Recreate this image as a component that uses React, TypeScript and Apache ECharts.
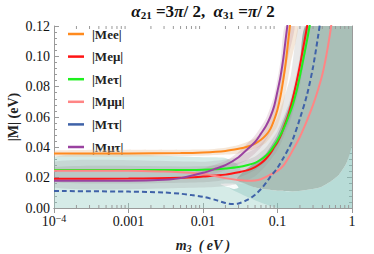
import React, { useEffect, useRef } from 'react';
import * as echarts from 'echarts';

// ---- curves: [m3 (eV), |M| (eV)] ----
const meeData = [[1e-4, 0.036], [0.001, 0.036], [0.005, 0.0362], [0.01, 0.0366], [0.02, 0.0376], [0.03, 0.039], [0.04, 0.0405], [0.05, 0.0425], [0.06, 0.045], [0.07, 0.048], [0.08, 0.052], [0.09, 0.058], [0.1, 0.065], [0.11, 0.074], [0.12, 0.085], [0.13, 0.097], [0.14, 0.111], [0.15, 0.124], [0.16, 0.136]];
const meuData = [[1e-4, 0.0193], [0.001, 0.0194], [0.005, 0.0199], [0.01, 0.0207], [0.015, 0.0214], [0.02, 0.022], [0.03, 0.0236], [0.04, 0.025], [0.05, 0.027], [0.06, 0.0295], [0.07, 0.0325], [0.08, 0.036], [0.09, 0.04], [0.1, 0.0435], [0.11, 0.0475], [0.12, 0.0525], [0.14, 0.0615], [0.16, 0.072], [0.18, 0.083], [0.2, 0.094], [0.22, 0.105], [0.25, 0.12], [0.28, 0.137]];
const metData = [[1e-4, 0.025], [0.001, 0.025], [0.005, 0.025], [0.01, 0.0252], [0.015, 0.0255], [0.02, 0.026], [0.03, 0.027], [0.04, 0.0283], [0.05, 0.0298], [0.06, 0.032], [0.07, 0.0345], [0.08, 0.0375], [0.09, 0.041], [0.1, 0.0445], [0.12, 0.052], [0.14, 0.06], [0.16, 0.068], [0.18, 0.077], [0.2, 0.087], [0.22, 0.097], [0.25, 0.111], [0.27, 0.12], [0.3, 0.134]];
const mmmData = [[1e-4, 0.0245], [0.001, 0.0245], [0.003, 0.024], [0.005, 0.0235], [0.01, 0.0225], [0.015, 0.021], [0.02, 0.0197], [0.03, 0.0185], [0.04, 0.018], [0.05, 0.0182], [0.06, 0.019], [0.07, 0.0205], [0.08, 0.022], [0.1, 0.0245], [0.12, 0.028], [0.14, 0.033], [0.16, 0.038], [0.2, 0.047], [0.25, 0.058], [0.3, 0.068], [0.35, 0.078], [0.4, 0.088], [0.45, 0.1], [0.5, 0.113], [0.55, 0.127], [0.6, 0.14]];
const mttData = [[1e-4, 0.0112], [0.001, 0.0108], [0.003, 0.0102], [0.005, 0.0094], [0.007, 0.0085], [0.01, 0.0074], [0.015, 0.0052], [0.02, 0.0033], [0.025, 0.0026], [0.03, 0.003], [0.04, 0.0055], [0.05, 0.0088], [0.06, 0.0125], [0.07, 0.0165], [0.08, 0.0205], [0.1, 0.0265], [0.12, 0.033], [0.14, 0.039], [0.16, 0.045], [0.2, 0.059], [0.25, 0.075], [0.3, 0.093], [0.35, 0.113], [0.38, 0.125], [0.42, 0.14]];
const mmtData = [[1e-4, 0.018], [0.001, 0.018], [0.003, 0.0186], [0.005, 0.0197], [0.01, 0.0232], [0.015, 0.026], [0.02, 0.0282], [0.03, 0.0335], [0.04, 0.039], [0.05, 0.0435], [0.06, 0.049], [0.07, 0.054], [0.08, 0.06], [0.09, 0.067], [0.1, 0.077], [0.11, 0.087], [0.12, 0.099], [0.13, 0.113], [0.14, 0.126], [0.15, 0.14]];

// ---- shaded allowed regions (outlines) ----
const tealLightBand = [[1e-4, 0], [1e-4, 0.0335], [0.01, 0.0335], [0.02, 0.033], [0.03, 0.028], [0.035, 0.02], [0.05, 0.0135], [0.1, 0.0113], [0.18, 0.011], [0.36, 0.0133], [0.5, 0.017], [0.67, 0.022], [0.85, 0.03], [1, 0.042], [1, 0]];
const tealMidBand = [[0.022, 0.0135], [0.1, 0], [1, 0], [1, 0.042], [0.85, 0.03], [0.67, 0.022], [0.5, 0.017], [0.36, 0.0133], [0.18, 0.011], [0.1, 0.0113], [0.05, 0.0135], [0.035, 0.0165]];
const whiteGap = [[0.017, 0.0158], [0.026, 0.0125], [0.03, 0.0135], [0.027, 0.016]];
const darkBand = [[0.24, 0.12], [0.2, 0.095], [0.15, 0.07], [0.1, 0.048], [0.07, 0.036], [0.05, 0.03], [0.035, 0.024], [0.028, 0.0185], [0.035, 0.0165], [0.05, 0.0135], [0.1, 0.0113], [0.18, 0.011], [0.36, 0.0133], [0.5, 0.017], [0.67, 0.022], [0.85, 0.03], [1, 0.042], [1, 0.12]];
const grayOuterBand = [[1e-4, 0.0305], [0.01, 0.0305], [0.02, 0.032], [0.03, 0.034], [0.05, 0.039], [0.07, 0.046], [0.1, 0.06], [0.15, 0.087], [0.19, 0.12], [0.26, 0.12], [0.2, 0.08], [0.15, 0.058], [0.1, 0.038], [0.07, 0.028], [0.05, 0.021], [0.03, 0.016], [0.02, 0.0145], [0.01, 0.0135], [1e-4, 0.0135]];
const grayInnerBand = [[1e-4, 0.027], [0.01, 0.0275], [0.03, 0.03], [0.05, 0.034], [0.07, 0.04], [0.1, 0.051], [0.15, 0.072], [0.2, 0.1], [0.23, 0.12], [0.27, 0.12], [0.2, 0.083], [0.15, 0.06], [0.1, 0.041], [0.07, 0.031], [0.05, 0.025], [0.03, 0.02], [0.01, 0.017], [1e-4, 0.017]];
const orangeBand = [[1e-4, 0.0378], [0.01, 0.0385], [0.02, 0.0398], [0.03, 0.0415], [0.05, 0.046], [0.07, 0.053], [0.09, 0.066], [0.11, 0.085], [0.13, 0.108], [0.14, 0.12], [0.19, 0.12], [0.15, 0.095], [0.12, 0.068], [0.1, 0.054], [0.07, 0.043], [0.05, 0.039], [0.03, 0.036], [0.02, 0.0352], [0.01, 0.0345], [1e-4, 0.034]];
const mauveBand = [[0.008, 0.024], [0.02, 0.031], [0.03, 0.037], [0.05, 0.048], [0.07, 0.059], [0.09, 0.074], [0.11, 0.097], [0.125, 0.12], [0.17, 0.12], [0.14, 0.1], [0.11, 0.073], [0.08, 0.05], [0.06, 0.04], [0.04, 0.032], [0.02, 0.025], [0.008, 0.019]];

// ---- axis ticks ----
const xMinorTicks = [2e-4, 3e-4, 4e-4, 5e-4, 6e-4, 7e-4, 8e-4, 9e-4, 0.002, 0.003, 0.004, 0.005, 0.006, 0.007, 0.008, 0.009, 0.02, 0.03, 0.04, 0.05, 0.06, 0.07, 0.08, 0.09, 0.2, 0.3, 0.4, 0.5, 0.6, 0.7, 0.8, 0.9];
const yMin = 0;
const yMax = 0.12;
const yStep = 0.02;

const SERIF = "'Liberation Serif', 'DejaVu Serif', serif";
const AXIS_COLOR = '#9a9a9a';

function band(name: string, pts: number[][], fill: string, z: number) {
  return {
    type: 'custom',
    name,
    silent: true,
    clip: true,
    z,
    data: pts,
    encode: { x: 0, y: 1 },
    renderItem: (params: any, api: any) => {
      if (params.dataIndex !== 0) return null;
      const points = pts.map((p) => api.coord(p));
      return { type: 'polygon', shape: { points, smooth: 0.2 }, style: { fill } };
    },
  };
}

function curve(name: string, data: number[][], color: string, dashed = false) {
  return {
    type: 'line',
    name,
    data,
    showSymbol: false,
    symbol: 'none',
    smooth: 0.3,
    clip: true,
    z: 10,
    lineStyle: { color, width: 2, type: dashed ? [5, 3] : 'solid' },
    itemStyle: { color },
  };
}

export default function App() {
  const ref = useRef<HTMLDivElement>(null);
  useEffect(() => {
    const chart = echarts.init(ref.current!, undefined, { renderer: 'svg' });
    const fmtX = (v: number) => {
      const l = Math.round(Math.log10(v));
      if (l === -4) return '{b|10}{sup|−4}';
      if (l === -3) return '{b|0.001}';
      if (l === -2) return '{b|0.01}';
      if (l === -1) return '{b|0.1}';
      return '{b|1}';
    };
    chart.setOption({
      animation: false,
      grid: { left: 54, right: 22, top: 26, bottom: 46 },
      xAxis: [
        {
          type: 'log', logBase: 10, min: 1e-4, max: 1, position: 'bottom',
          axisLine: { lineStyle: { color: AXIS_COLOR, width: 1 } },
          axisTick: { inside: true, length: 5, lineStyle: { color: AXIS_COLOR } },
          splitLine: { show: false },
          axisLabel: {
            margin: 7, formatter: fmtX, color: '#111',
            rich: {
              b: { fontFamily: SERIF, fontSize: 14, color: '#111', lineHeight: 12 },
              sup: { fontFamily: SERIF, fontSize: 10, color: '#111', lineHeight: 12, padding: [0, 0, 6, 0] },
            },
          },
        },
        {
          type: 'log', logBase: 10, min: 1e-4, max: 1, position: 'top',
          axisLine: { lineStyle: { color: AXIS_COLOR, width: 1 } },
          axisTick: { inside: true, length: 5, lineStyle: { color: AXIS_COLOR } },
          axisLabel: { show: false }, splitLine: { show: false },
        },
      ],
      yAxis: [
        {
          type: 'value', min: yMin, max: yMax, interval: yStep, position: 'left',
          axisLine: { show: true, lineStyle: { color: AXIS_COLOR, width: 1 } },
          axisTick: { show: true, inside: true, length: 5, lineStyle: { color: AXIS_COLOR } },
          minorTick: { show: true, splitNumber: 5, length: 3, lineStyle: { color: AXIS_COLOR } },
          splitLine: { show: false },
          axisLabel: { margin: 4, formatter: (v: number) => v.toFixed(2), fontFamily: SERIF, fontSize: 14, lineHeight: 10, color: '#111' },
        },
        {
          type: 'value', min: yMin, max: yMax, interval: yStep, position: 'right',
          axisLine: { show: true, lineStyle: { color: AXIS_COLOR, width: 1 } },
          axisTick: { show: true, inside: true, length: 5, lineStyle: { color: AXIS_COLOR } },
          minorTick: { show: true, splitNumber: 5, length: 3, lineStyle: { color: AXIS_COLOR } },
          splitLine: { show: false }, axisLabel: { show: false },
        },
      ],
      legend: {
        orient: 'vertical', left: 68, top: 26, padding: 0, icon: 'rect', itemWidth: 16, itemHeight: 2.5, itemGap: 6.6,
        data: ['|Mee|', '|Meμ|', '|Meτ|', '|Mμμ|', '|Mττ|', '|Mμτ|'],
        textStyle: { fontFamily: SERIF, fontSize: 13, fontWeight: 'bold', color: '#222', lineHeight: 16, padding: [0, 0, 0, 3] },
        selectedMode: false,
      },
      series: [
        band('tealLight', tealLightBand, 'rgba(150,205,195,0.4)', 1),
        band('tealMid', tealMidBand, 'rgba(120,185,180,0.3)', 2),
        band('gap', whiteGap, 'rgba(255,255,255,0.9)', 3),
        band('dark', darkBand, 'rgb(169,191,183)', 3),
        band('grayOuter', grayOuterBand, 'rgba(150,150,150,0.22)', 4),
        band('grayInner', grayInnerBand, 'rgba(130,130,130,0.18)', 5),
        band('orangeBand', orangeBand, 'rgba(230,195,160,0.4)', 6),
        band('mauveBand', mauveBand, 'rgba(175,115,140,0.2)', 7),
        {
          type: 'custom', name: 'minorX', silent: true, z: 12,
          data: xMinorTicks.map((v) => [v, yMin]),
          encode: { x: 0, y: 1 },
          renderItem: (params: any, api: any) => {
            const x = api.value(0);
            const b = api.coord([x, yMin]);
            const t = api.coord([x, yMax]);
            const st = { stroke: AXIS_COLOR, lineWidth: 1 };
            return {
              type: 'group',
              children: [
                { type: 'line', shape: { x1: b[0], y1: b[1], x2: b[0], y2: b[1] - 3 }, style: st },
                { type: 'line', shape: { x1: t[0], y1: t[1], x2: t[0], y2: t[1] + 3 }, style: st },
              ],
            };
          },
        },
        curve('|Mee|', meeData, '#ff8a1e'),
        curve('|Meμ|', meuData, '#ff1414'),
        curve('|Meτ|', metData, '#1ef01e'),
        curve('|Mμμ|', mmmData, '#ff8585'),
        curve('|Mττ|', mttData, '#3f62a8', true),
        curve('|Mμτ|', mmtData, '#9a42a0'),
      ],
      graphic: [
        {
          type: 'text', x: 203, y: 11,
          style: {
            text: '{g|α}{s|21}{a| =3}{g|π}{a|/ 2,  }{g|α}{s|31}{a| =}{g|π}{a|/ 2}',
            align: 'center', verticalAlign: 'middle',
            rich: {
              a: { fontFamily: SERIF, fontSize: 17, fontWeight: 'bold', fill: '#111' },
              g: { fontFamily: SERIF, fontSize: 17, fontWeight: 'bold', fontStyle: 'italic', fill: '#111' },
              s: { fontFamily: SERIF, fontSize: 11, fontWeight: 'bold', fill: '#111', padding: [8, 0, 0, 0] },
            },
          },
        },
        {
          type: 'text', x: 13, y: 117, rotation: Math.PI / 2,
          style: {
            text: '|M| (eV)', align: 'center', verticalAlign: 'middle',
            fontFamily: SERIF, fontSize: 14, fontWeight: 'bold', fill: '#222',
          },
        },
        {
          type: 'text', x: 203, y: 245,
          style: {
            text: '{m|m}{s|3}{m|  ( eV )}',
            align: 'center', verticalAlign: 'middle',
            rich: {
              m: { fontFamily: SERIF, fontSize: 14, fontWeight: 'bold', fontStyle: 'italic', fill: '#222' },
              s: { fontFamily: SERIF, fontSize: 10, fontWeight: 'bold', fontStyle: 'italic', fill: '#222', padding: [6, 0, 0, 0] },
            },
          },
        },
      ],
    });
    return () => chart.dispose();
  }, []);
  return <div ref={ref} style={{ width: 374, height: 254, position: 'absolute', left: 0, top: 0 }} />;
}
